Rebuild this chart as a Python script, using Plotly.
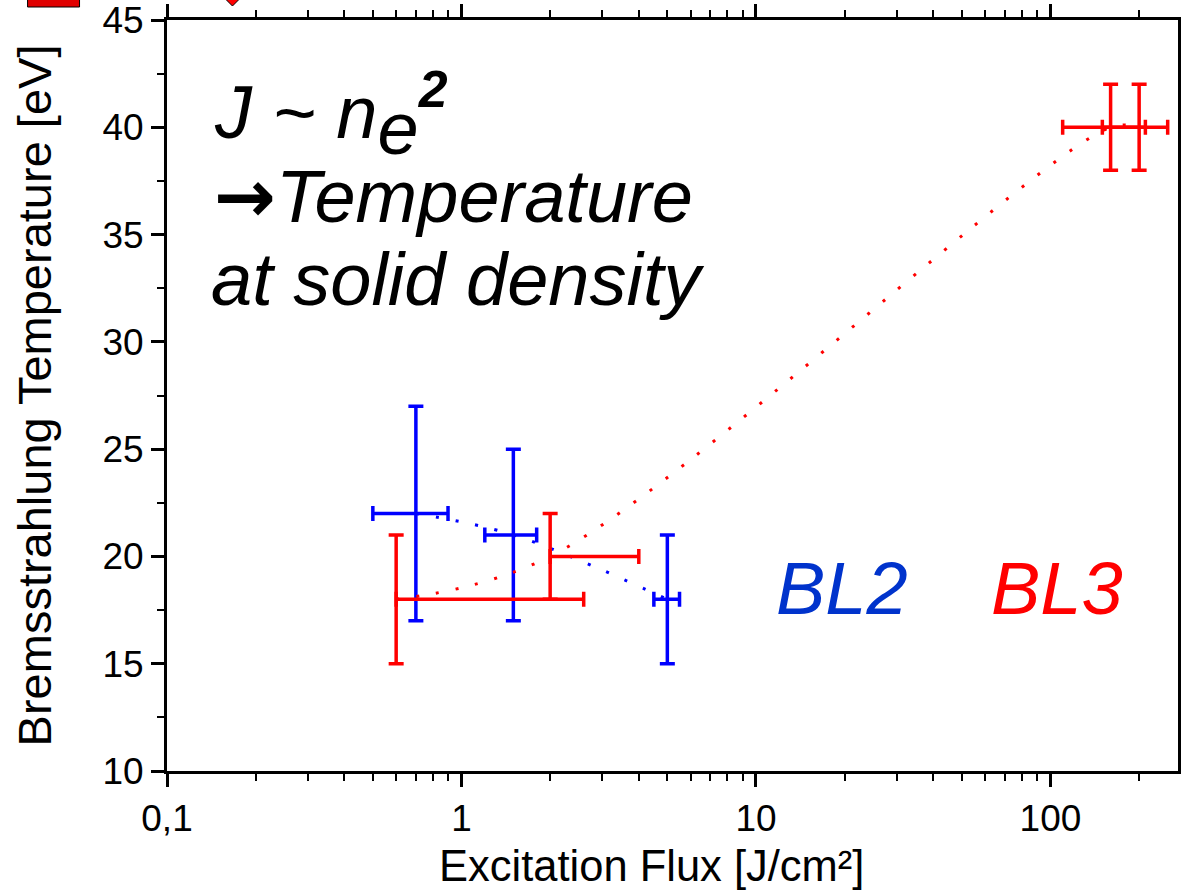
import plotly.graph_objects as go

# ---------------- data ----------------
bl2_flux = [0.7, 1.5, 5.0]
bl2_temp = [22, 21, 18]
bl2_flux_minus = [0.2, 0.3, 0.5]
bl2_flux_plus = [0.2, 0.3, 0.5]
bl2_temp_err = [5, 4, 3]

bl3_flux = [0.6, 2.0, 160, 200]
bl3_temp = [18, 20, 40, 40]
bl3_flux_minus = [0, 0, 50, 50]
bl3_flux_plus = [2.0, 2.0, 50, 50]
bl3_temp_err = [3, 2, 2, 2]

x_tickvals = [0.1, 1, 10, 100]
x_ticktext = ["0,1", "1", "10", "100"]
x_minor_tickvals = [m * d for d in (0.1, 1, 10, 100) for m in range(2, 10)]
y_tickvals = [10, 15, 20, 25, 30, 35, 40, 45]

# ---------------- layout helpers ----------------
W, H = 1182, 891
L, R, T, B = 166.5, 1178, 20, 771


def px(xp):
    return (xp - L) / (R - L)


def py(yp):
    return (B - yp) / (B - T)


FONT = "Arial, 'Liberation Sans', sans-serif"
BLUE = "#0000FF"
RED = "#FF0000"

fig = go.Figure()

fig.add_trace(go.Scatter(
    x=bl2_flux, y=bl2_temp, mode="lines",
    line=dict(color=BLUE, width=3, dash="3px,17px", shape="spline"),
    error_x=dict(type="data", symmetric=False, array=bl2_flux_plus,
                 arrayminus=bl2_flux_minus, color=BLUE, thickness=3.5, width=7.5),
    error_y=dict(type="data", array=bl2_temp_err, color=BLUE, thickness=3.5, width=7.5),
    showlegend=False, hoverinfo="skip",
))

fig.add_trace(go.Scatter(
    x=bl3_flux, y=bl3_temp, mode="lines",
    line=dict(color=RED, width=3, dash="3px,17px", shape="spline"),
    error_x=dict(type="data", symmetric=False, array=bl3_flux_plus,
                 arrayminus=bl3_flux_minus, color=RED, thickness=3.5, width=7.5),
    error_y=dict(type="data", array=bl3_temp_err, color=RED, thickness=3.5, width=7.5),
    showlegend=False, hoverinfo="skip",
))

TS = 74
ann_font = dict(family=FONT, size=TS, color="black", style="italic")
annotations = [
    dict(text=f"J ~ n<sub><span style='font-size:{TS}px'>e</span></sub><sup><b>2</b></sup>",
         x=px(212), y=py(115), xanchor="left", yanchor="middle"),
    dict(text="<span style='font-style:normal;font-family:DejaVu Sans;font-weight:bold;font-size:74px'>→</span>Temperature",
         x=px(212), y=py(196), xanchor="left", yanchor="middle"),
    dict(text="at solid density",
         x=px(209), y=py(279), xanchor="left", yanchor="middle"),
]
for a in annotations:
    fig.add_annotation(xref="paper", yref="paper", showarrow=False,
                       font=ann_font, **a)

fig.add_annotation(text="BL2", xref="paper", yref="paper", showarrow=False,
                   x=px(774), y=py(588), xanchor="left", yanchor="middle",
                   font=dict(family=FONT, size=TS, color="#0033CC", style="italic"))
fig.add_annotation(text="BL3", xref="paper", yref="paper", showarrow=False,
                   x=px(989), y=py(588), xanchor="left", yanchor="middle",
                   font=dict(family=FONT, size=TS, color=RED, style="italic"))

# x-axis title (placed slightly left of centre, as in the original)
fig.add_annotation(text="Excitation Flux [J/cm²]", xref="paper", yref="paper",
                   showarrow=False, x=px(651), y=py(866), xanchor="center", yanchor="middle",
                   font=dict(family=FONT, size=43.5, color="black"))

# remnants of a cropped legend at the top edge
fig.add_shape(type="rect", xref="paper", yref="paper",
              x0=px(27), x1=px(79), y0=py(7), y1=py(-10),
              fillcolor="#E00000", line=dict(color="black", width=1), layer="above")
dx, dy = 9, 9
cx, cy = 232, -3
fig.add_shape(type="path", xref="paper", yref="paper",
              path=f"M {px(cx)} {py(cy + dy)} L {px(cx + dx)} {py(cy)} L {px(cx)} {py(cy - dy)} L {px(cx - dx)} {py(cy)} Z",
              fillcolor=RED, line=dict(color="black", width=1), layer="above")

fig.update_xaxes(
    type="log", range=[-1, 2.433],
    tickvals=x_tickvals, ticktext=x_ticktext,
    ticks="outside", ticklen=13, tickwidth=2.5, tickcolor="black",
    minor=dict(ticks="outside", ticklen=7, tickwidth=2, tickcolor="black",
               tickvals=x_minor_tickvals, showgrid=False),
    showline=True, linecolor="black", linewidth=3, mirror="allticks",
    showgrid=False, zeroline=False, ticklabeloverflow="allow",
    tickfont=dict(family=FONT, size=37, color="black"),
)
fig.update_yaxes(
    range=[10, 45], tickvals=y_tickvals,
    ticks="outside", ticklen=13, tickwidth=2.5, tickcolor="black",
    minor=dict(ticks="outside", ticklen=7, tickwidth=2, tickcolor="black",
               dtick=2.5, tick0=10, showgrid=False),
    showline=True, linecolor="black", linewidth=3, mirror=True,
    showgrid=False, zeroline=False, ticklabeloverflow="allow",
    tickfont=dict(family=FONT, size=37, color="black"),
    title=dict(text="Bremsstrahlung Temperature [eV]", font=dict(family=FONT, size=47, color="black"),
               standoff=36),
)

fig.update_layout(
    width=W, height=H,
    margin=dict(l=L, r=W - R, t=T, b=H - B, autoexpand=False),
    paper_bgcolor="white", plot_bgcolor="white",
    showlegend=False,
)

fig.write_html("out.html", config={"displayModeBar": False},
               post_script="document.body.style.margin='0';document.body.style.padding='0';")
